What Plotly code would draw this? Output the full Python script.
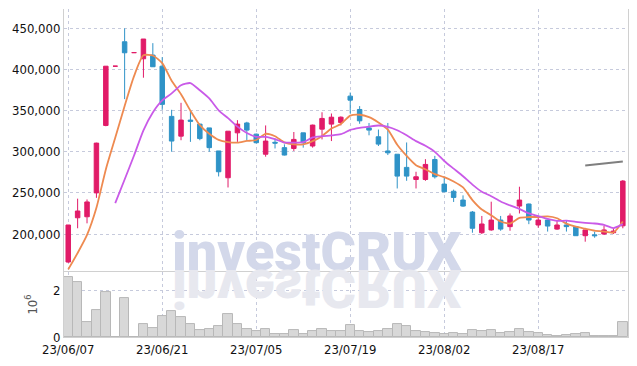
import plotly.graph_objects as go

dates = ["23/06/07","23/06/08","23/06/09","23/06/12","23/06/13","23/06/14","23/06/15","23/06/16","23/06/19","23/06/20",
         "23/06/21","23/06/22","23/06/23","23/06/26","23/06/27","23/06/28","23/06/29","23/06/30","23/07/03","23/07/04",
         "23/07/05","23/07/06","23/07/07","23/07/10","23/07/11","23/07/12","23/07/13","23/07/14","23/07/17","23/07/18",
         "23/07/19","23/07/20","23/07/21","23/07/24","23/07/25","23/07/26","23/07/27","23/07/28","23/07/31","23/08/01",
         "23/08/02","23/08/03","23/08/04","23/08/07","23/08/08","23/08/09","23/08/10","23/08/11","23/08/14","23/08/16",
         "23/08/17","23/08/18","23/08/21","23/08/22","23/08/23","23/08/24","23/08/25","23/08/28","23/08/29","23/08/30"]

open_ = [166000,219800,221000,250000,332000,404000,433700,420500,413000,417500,
         404000,343000,319000,338500,333600,329000,301000,268400,323000,335000,
         321400,297000,311500,305000,304000,323000,307000,327500,333600,335600,
         367600,351400,329000,318200,301000,297000,281000,266300,266300,290600,
         260700,252000,241300,226700,201600,205000,217000,209000,234000,236500,
         211000,217000,206000,211000,209000,198000,199000,200000,201600,210000]
high = [211000,243000,242000,311000,404000,404000,450000,420500,437000,432000,
        415000,351000,359500,350500,334000,329000,301000,325000,338400,336400,
        322000,332000,316000,309000,324000,323000,333000,348000,346500,343000,
        372000,355500,335000,327000,335000,297000,311300,275700,291000,295000,
        269600,254000,247000,228000,222000,239300,222000,225000,257500,237000,
        221000,217500,217000,217000,209000,205000,203000,210000,207000,265600]
low = [165000,207000,213000,244000,331000,404000,364000,420500,390000,403000,
       351000,300000,314000,312000,314000,300000,270000,256600,312000,314000,
       310000,294000,304000,295500,301000,305000,305000,315000,313000,332000,
       346500,334000,320000,307000,296000,255400,264700,255400,264700,267500,
       251000,239000,233000,201600,200000,204000,204000,204000,225000,212000,
       207700,203000,205000,203000,198000,190700,195500,198800,200000,207000]
close = [211000,228000,239000,310500,404000,404000,420300,420500,437000,403300,
         357600,313000,338500,337000,316000,305000,275700,325000,333600,326300,
         311000,313000,310500,296000,315000,311000,332400,340500,342000,342000,
         362700,337600,326300,309300,298700,270400,270400,269600,284600,269600,
         251400,244500,234000,207000,212200,217000,206000,222000,241300,217000,
         217000,209700,211000,209000,198000,205000,198000,205000,203600,264400]

ma5 = [157000,177000,199000,232000,278500,317000,355600,391900,417200,417000,
       407700,386300,369900,349900,332400,321900,314400,311700,311100,313100,
       314300,321800,318900,311400,309100,309100,313000,319000,328200,333600,
       343900,345000,342100,335600,326900,308500,295000,283700,278700,272900,
       269100,263900,256800,241300,229800,222900,215200,212800,219700,220700,
       220700,221400,219200,212700,208900,206500,204200,203000,201900,215200]
ma10 = [None,None,None,None,None,237500,266300,295400,326100,347800,
        362400,370900,380900,383500,374700,364800,350400,340800,330500,322800,
        318100,318100,315300,311200,311100,311700,317400,318900,319800,321300,
        326500,329000,330600,331900,330300,326200,320000,312900,307200,299900,
        288800,279500,270300,260000,251400,246000,239600,234800,230500,225200,
        221800,218300,216000,216200,214800,213600,212800,211100,207300,212100]
ma60 = [None]*55 + [283300,284400,285700,286900,288200]

volume = [2570000,2360000,640000,1160000,1930000,0,1670000,0,560000,390000,
          900000,1110000,860000,560000,300000,340000,470000,990000,560000,340000,
          260000,340000,130000,130000,300000,130000,260000,340000,260000,260000,
          510000,240000,200000,270000,360000,570000,490000,240000,200000,160000,
          140000,190000,140000,300000,270000,300000,160000,200000,340000,200000,
          160000,100000,40000,100000,140000,190000,40000,30000,30000,640000]

tick_labels = ["23/06/07","23/06/21","23/07/05","23/07/19","23/08/02","23/08/17"]
price_ticks = [200000, 250000, 300000, 350000, 400000, 450000]
watermark = "investCRUX"

UP = "#e11b68"
DOWN = "#2f93c7"
GRID = "#c6cadc"
FONT = "Liberation Sans Narrow, DejaVu Sans Condensed, Roboto Condensed, Noto Sans Condensed, Roboto, sans-serif"

fig = go.Figure()
fig.add_trace(go.Candlestick(
    x=dates, open=open_, high=high, low=low, close=close,
    increasing=dict(line=dict(color=UP, width=1), fillcolor=UP),
    decreasing=dict(line=dict(color=DOWN, width=1), fillcolor=DOWN),
    whiskerwidth=0, showlegend=False, xaxis="x", yaxis="y2", hoverinfo="skip"))
fig.add_trace(go.Scatter(x=dates, y=ma5, mode="lines", line=dict(color="#ee8a50", width=1.8, shape="spline", smoothing=0.6),
                         xaxis="x", yaxis="y2", showlegend=False, hoverinfo="skip"))
fig.add_trace(go.Scatter(x=dates, y=ma10, mode="lines", line=dict(color="#c95ae8", width=1.8, shape="spline", smoothing=0.6),
                         xaxis="x", yaxis="y2", showlegend=False, hoverinfo="skip"))
fig.add_trace(go.Scatter(x=dates, y=ma60, mode="lines", line=dict(color="#7f7f7f", width=2),
                         xaxis="x", yaxis="y2", showlegend=False, hoverinfo="skip"))
fig.add_trace(go.Bar(x=dates, y=volume, marker=dict(color="#d8d8d8", line=dict(color="#b8b8b8", width=1)),
                     xaxis="x", yaxis="y", showlegend=False, hoverinfo="skip"))

vol_dom = 0.198
fig.update_layout(
    width=637, height=366,
    margin=dict(l=64, r=9, t=9, b=29, autoexpand=False),
    paper_bgcolor="white", plot_bgcolor="white",
    bargap=0, boxgap=0.32,
    font=dict(family=FONT, size=13, color="#111111"),
    xaxis=dict(type="category", range=[-0.45, 59.55], tickmode="array", tickvals=tick_labels,
               ticktext=tick_labels, showgrid=True, gridcolor=GRID, griddash="dot", gridwidth=1,
               showline=True, linecolor="#d0d0d0", mirror=True, ticks="", rangeslider=dict(visible=False),
               tickfont=dict(size=13), anchor="y", zeroline=False, automargin=False),
    yaxis=dict(domain=[0, vol_dom], range=[0, 2800000], tickvals=[0, 2000000], ticktext=["0", "2"],
               showgrid=True, gridcolor=GRID, griddash="dot", showline=True, linecolor="#d0d0d0", mirror=True,
               zeroline=False, ticks="", automargin=False, tickfont=dict(size=13),
               title=dict(text="10<sup>6</sup>", font=dict(size=13, color="#555"), standoff=12)),
    yaxis2=dict(domain=[vol_dom, 1], range=[153800, 473500], tickvals=price_ticks,
                ticktext=[f"{v:,}" for v in price_ticks], showgrid=True, gridcolor=GRID, griddash="dot",
                showline=True, linecolor="#d0d0d0", mirror=True, zeroline=False, ticks="", anchor="x",
                automargin=False, tickfont=dict(size=13)),
)

wm_y = vol_dom - 0.038
fig.add_annotation(text=watermark, xref="paper", yref="paper", x=0.449, y=wm_y,
                   xanchor="center", yanchor="bottom", showarrow=False,
                   font=dict(family="Roboto, Liberation Sans, sans-serif", size=54, weight=900, color="#d3d8ea"))
fig.add_annotation(text=watermark, xref="paper", yref="paper", x=0.449, y=wm_y,
                   xanchor="center", yanchor="bottom", showarrow=False,
                   font=dict(family="Roboto, Liberation Sans, sans-serif", size=54, weight=900, color="#e7e8ef"))

post = """
document.body.style.margin = '0';
document.body.style.padding = '0';
var t = document.querySelectorAll('g.annotation text.annotation-text');
if (t.length > 1) {
  var e = t[1];
  var ys = parseFloat(e.getAttribute('y')) || 0;
  e.setAttribute('transform', 'translate(0,' + (2*ys) + ') scale(1,-1)');
}
"""
fig.write_html("out.html", post_script=post, config={"displayModeBar": False})
